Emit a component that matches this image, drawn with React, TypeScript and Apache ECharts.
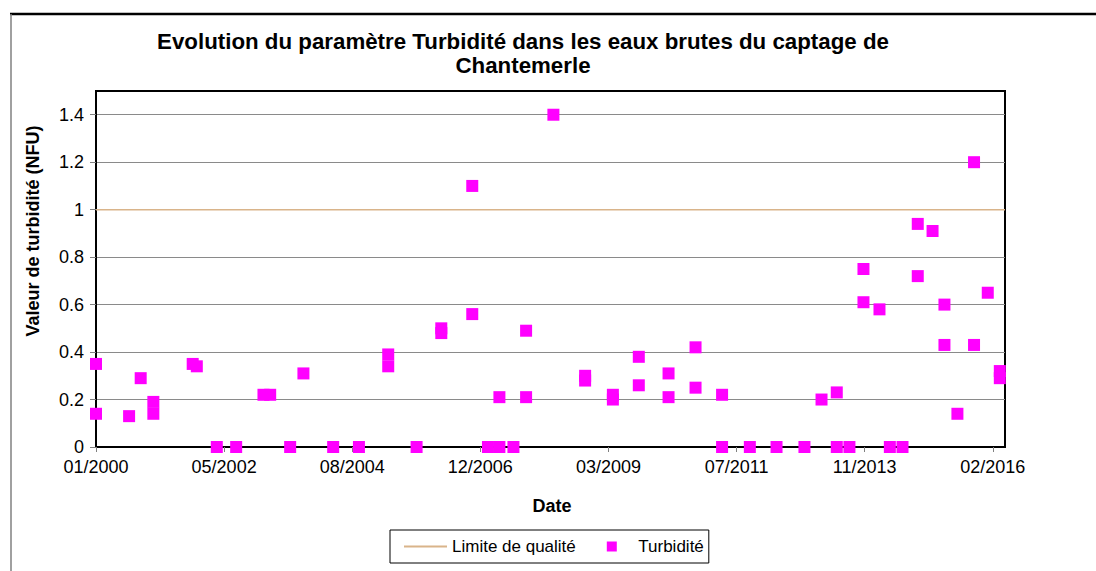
import React, { useEffect, useRef } from "react";
import * as echarts from "echarts";

// Sample dates (one per measured point) and turbidity values (NFU)
const sampleDates = [
  "2000-01-16", "2000-01-16", "2000-08-20", "2000-11-04", "2001-01-26", "2001-01-26",
  "2001-10-11", "2001-11-07", "2002-03-18", "2002-07-23", "2003-01-18", "2003-03-03",
  "2003-07-12", "2003-10-07", "2004-04-19", "2004-10-05", "2005-04-15", "2005-04-15",
  "2005-10-18", "2006-03-29", "2006-03-29", "2006-10-18", "2006-10-18", "2007-01-29",
  "2007-04-14", "2007-04-14", "2007-07-15", "2007-10-06", "2007-10-06", "2008-04-02",
  "2008-10-27", "2008-10-27", "2009-04-27", "2009-04-27", "2009-10-14", "2009-10-14",
  "2010-04-27", "2010-04-27", "2010-10-21", "2010-10-21", "2011-04-13", "2011-04-13",
  "2011-10-12", "2012-04-04", "2012-10-04", "2013-01-24", "2013-05-04", "2013-05-04",
  "2013-07-26", "2013-10-26", "2013-10-26", "2014-02-08", "2014-04-17", "2014-07-09",
  "2014-10-17", "2014-10-17", "2015-01-22", "2015-04-10", "2015-04-10", "2015-07-04",
  "2015-10-21", "2015-10-21", "2016-01-19", "2016-04-07", "2016-04-07",
];
const turbidity = [
  0.35, 0.14, 0.13, 0.29, 0.19, 0.14,
  0.35, 0.34, 0, 0, 0.22, 0.22,
  0, 0.31, 0, 0, 0.39, 0.34,
  0, 0.5, 0.48, 1.1, 0.56, 0,
  0, 0.21, 0, 0.49, 0.21, 1.4,
  0.3, 0.28, 0.22, 0.2, 0.38, 0.26,
  0.31, 0.21, 0.42, 0.25, 0.22, 0,
  0, 0, 0, 0.2, 0.23, 0,
  0, 0.75, 0.61, 0.58, 0, 0,
  0.94, 0.72, 0.91, 0.6, 0.43, 0.14,
  1.2, 0.43, 0.65, 0.32, 0.29,
];
const limitValue = 1;
const yTicks = [0, 0.2, 0.4, 0.6, 0.8, 1, 1.2, 1.4];

// Date axis: days counted from the axis origin
const AXIS_ORIGIN = Date.UTC(2000, 0, 16);
const DAY = 86400000;
const X_INTERVAL = 840;
const X_MAX = 5960;
const xTickDays = [0, 840, 1680, 2520, 3360, 4200, 5040, 5880];

const toDays = (s: string) => {
  const [y, m, d] = s.split("-").map(Number);
  return (Date.UTC(y, m - 1, d) - AXIS_ORIGIN) / DAY;
};
const fmtDate = (v: number) => {
  const d = new Date(AXIS_ORIGIN + v * DAY);
  const mm = String(d.getUTCMonth() + 1).padStart(2, "0");
  return `${mm}/${d.getUTCFullYear()}`;
};

const FONT = "'Liberation Sans', Arial, sans-serif";
const LIMIT_COLOR = "#D9B48A";

export default function App() {
  const ref = useRef<HTMLDivElement>(null);
  useEffect(() => {
    if (!ref.current) return;
    const chart = echarts.init(ref.current, undefined, { renderer: "svg" });
    const points = sampleDates.map((d, i) => [toDays(d), turbidity[i]]);
    chart.setOption({
      animation: false,
      backgroundColor: "#ffffff",
      textStyle: { fontFamily: FONT },
      title: {
        text: "Evolution du paramètre Turbidité dans les eaux brutes du captage de\nChantemerle",
        left: 523,
        top: 29,
        padding: 0,
        textAlign: "center",
        textStyle: {
          fontFamily: FONT,
          fontSize: 22.3,
          fontWeight: "bold",
          color: "#000",
          lineHeight: 24,
        },
      },
      grid: {
        left: 96,
        right: 91,
        top: 91,
        bottom: 124,
        show: true,
        borderColor: "#000",
        borderWidth: 2,
        backgroundColor: "transparent",
      },
      xAxis: {
        type: "value",
        min: 0,
        max: X_MAX,
        interval: X_INTERVAL,
        axisLine: { show: true, lineStyle: { color: "#000", width: 2 } },
        axisTick: {
          show: true,
          length: 5,
          customValues: xTickDays,
          lineStyle: { color: "#808080", width: 1 },
        },
        axisLabel: {
          customValues: xTickDays,
          formatter: (v: number) => fmtDate(v),
          fontFamily: FONT,
          fontSize: 18,
          color: "#000",
          margin: 11,
        },
        splitLine: { show: false },
      },
      yAxis: {
        type: "value",
        min: 0,
        max: 1.5,
        interval: 0.2,
        axisLine: { show: true, lineStyle: { color: "#000", width: 2 } },
        axisTick: {
          show: true,
          length: 6,
          customValues: yTicks,
          lineStyle: { color: "#808080", width: 1 },
        },
        axisLabel: {
          customValues: yTicks,
          formatter: (v: number) => String(+v.toFixed(1)),
          fontFamily: FONT,
          fontSize: 18,
          color: "#000",
          margin: 12,
        },
        splitLine: { show: true, lineStyle: { color: "#8a8a8a", width: 1 } },
      },
      legend: {
        left: 390,
        top: 530,
        orient: "horizontal",
        borderColor: "#000",
        borderWidth: 1,
        padding: [8, 5, 8, 13],
        itemWidth: 43,
        itemHeight: 10,
        itemGap: 31,
        itemTextGap: 4,
        symbolKeepAspect: true,
        textStyle: { fontFamily: FONT, fontSize: 17, color: "#000" },
        data: [
          { name: "Limite de qualité", itemStyle: { opacity: 0 } },
          { name: "Turbidité", icon: "path://M0,0H10V10H0Z" },
        ],
      },
      graphic: [
        {
          type: "line",
          shape: { x1: 10, y1: 14, x2: 1096, y2: 14 },
          style: { stroke: "#000", lineWidth: 2.5 },
          silent: true,
        },
        {
          type: "line",
          shape: { x1: 11, y1: 14, x2: 11, y2: 571 },
          style: { stroke: "#808080", lineWidth: 1.5 },
          silent: true,
        },
        {
          type: "text",
          x: 33,
          y: 231,
          rotation: Math.PI / 2,
          style: {
            text: "Valeur de turbidité (NFU)",
            fontFamily: FONT,
            fontSize: 18,
            fontWeight: "bold",
            fill: "#000",
            align: "center",
            verticalAlign: "middle",
          },
        },
        {
          type: "text",
          x: 552,
          y: 506,
          style: {
            text: "Date",
            fontFamily: FONT,
            fontSize: 18,
            fontWeight: "bold",
            fill: "#000",
            align: "center",
            verticalAlign: "middle",
          },
        },
      ],
      series: [
        {
          name: "Limite de qualité",
          type: "line",
          symbol: "none",
          data: [[0, limitValue], [X_MAX, limitValue]],
          lineStyle: { color: LIMIT_COLOR, width: 1.5 },
          itemStyle: { color: LIMIT_COLOR },
          z: 1,
        },
        {
          name: "Turbidité",
          type: "scatter",
          symbol: "rect",
          symbolSize: 12,
          data: points,
          itemStyle: { color: "#FF00FF", opacity: 1 },
          z: 3,
        },
      ],
    });
    return () => chart.dispose();
  }, []);
  return (
    <div
      ref={ref}
      style={{ position: "fixed", left: 0, top: 0, width: 1096, height: 571, background: "#fff" }}
    />
  );
}
